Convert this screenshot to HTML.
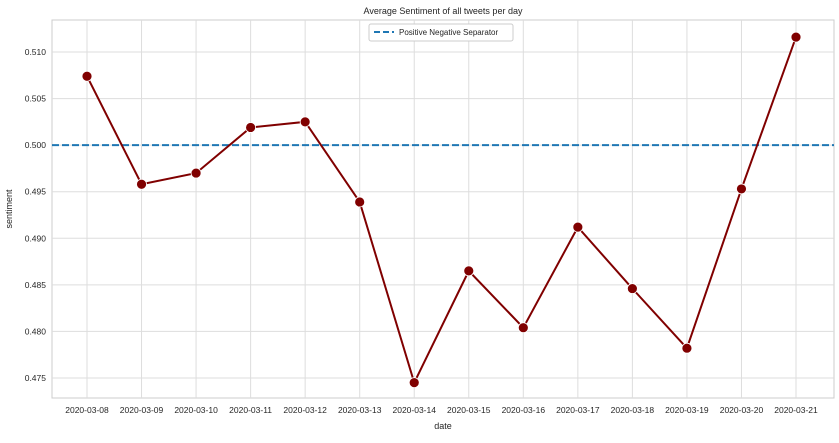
<!DOCTYPE html>
<html><head><meta charset="utf-8"><style>
body{margin:0;background:#fff;font-family:"Liberation Sans",sans-serif;}
svg text{font-family:"Liberation Sans",sans-serif;fill:#262626;}
</style></head><body>
<svg id="chart" width="839" height="438">
<text x="443" y="14" font-size="9" text-anchor="middle">Average Sentiment of all tweets per day</text>
<rect x="52" y="20" width="782" height="378" fill="none" stroke="#ccc" stroke-width="1"/>
<g id="grid"></g><g id="axes"></g><g id="marks"></g>
<text x="443" y="429" font-size="9" text-anchor="middle">date</text>
<text x="12" y="209" font-size="9" text-anchor="middle" transform="rotate(-90 12 209)">sentiment</text>
<g>
<rect x="369" y="24" width="144" height="17" fill="#fff" stroke="#ccc" rx="2"/>
<line x1="374" y1="32" x2="394" y2="32" stroke="#1f77b4" stroke-width="2" stroke-dasharray="6,3"/>
<text x="399" y="35" font-size="8">Positive Negative Separator</text>
</g>
</svg>
<script>
const dates=["2020-03-08","2020-03-09","2020-03-10","2020-03-11","2020-03-12","2020-03-13","2020-03-14","2020-03-15","2020-03-16","2020-03-17","2020-03-18","2020-03-19","2020-03-20","2020-03-21"];
const sentiment=[0.5074,0.4958,0.4970,0.5019,0.5025,0.4939,0.4745,0.4865,0.4804,0.4912,0.4846,0.4782,0.4953,0.5116];
const yTicks=[0.475,0.480,0.485,0.490,0.495,0.500,0.505,0.510];
const separator=0.5;
const NS="http://www.w3.org/2000/svg";
const x=i=>87+i*(796-87)/(dates.length-1);
const y=v=>52+(0.510-v)/0.005*(326/7);
function mk(t,a,p){const e=document.createElementNS(NS,t);for(const k in a)e.setAttribute(k,a[k]);p.appendChild(e);return e;}
const grid=document.getElementById('grid'),axes=document.getElementById('axes'),marks=document.getElementById('marks');
yTicks.forEach(v=>{
 const l=mk('line',{x1:52,x2:834,y1:y(v),y2:y(v),stroke:'#ddd'},grid);
 
 
 const t=mk('text',{x:46,y:y(v)+3,'font-size':8.5,'text-anchor':'end'},axes);
 t.textContent=v.toFixed(3);
 
 
});
dates.forEach((d,i)=>{
 const l=mk('line',{x1:x(i),x2:x(i),y1:20,y2:398,stroke:'#ddd'},grid);
 
 
 const t=mk('text',{x:x(i),y:413,'font-size':8.5,'text-anchor':'middle'},axes);
 t.textContent=d;
 
 
});
const sep=mk('line',{x1:52,x2:834,y1:y(separator),y2:y(separator),stroke:'#1f77b4','stroke-width':2,'stroke-dasharray':'7,3'},marks);


const pl=mk('polyline',{points:sentiment.map((v,i)=>x(i)+','+y(v)).join(' '),fill:'none',stroke:'#800000','stroke-width':2},marks);


sentiment.forEach((v,i)=>{
 const c=mk('circle',{cx:x(i),cy:y(v),r:5,fill:'#800000',stroke:'#fff','stroke-width':0.8},marks);
 
 
});
</script>
</body></html>
